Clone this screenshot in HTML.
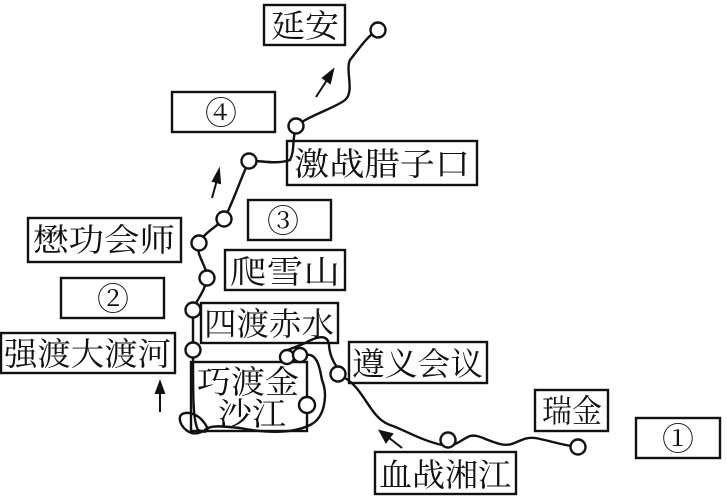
<!DOCTYPE html>
<html><head><meta charset="utf-8"><style>
body{margin:0;background:#fff;}
svg{display:block}
text{font-family:"Liberation Serif","Noto Serif CJK SC",serif;font-size:32px;fill:#111;}
</style></head><body>
<svg width="727" height="496" viewBox="0 0 727 496" xmlns="http://www.w3.org/2000/svg">
<g fill="none" stroke="#111" stroke-width="2.4">
<rect x="264" y="5" width="81" height="40"/>
<rect x="172" y="92" width="103" height="40"/>
<rect x="287" y="141" width="190" height="44"/>
<rect x="248" y="200" width="83" height="40"/>
<rect x="28" y="218" width="153" height="44"/>
<rect x="225" y="250" width="120" height="40"/>
<rect x="61" y="278" width="103" height="40"/>
<rect x="201" y="303" width="137" height="40"/>
<rect x="1" y="333" width="174" height="40"/>
<rect x="349" y="342" width="138" height="41"/>
<rect x="191" y="362" width="116" height="69"/>
<rect x="535" y="390" width="73" height="41"/>
<rect x="636" y="418" width="84" height="40"/>
<rect x="375" y="452" width="141" height="42"/>
<path d="M578,447 C560,445 548,440 535,438 C520,436 515,448 500,444 C485,440 478,434 470,436 C460,440 455,448 442,445 C420,440 405,430 390,425 C370,418 365,390 345,378 C340,370 330,362 329,345 C328,335 320,335 305,343 C295,348 283,350 282,355 C284,360 300,357 305,355 C318,352 320,370 322,380 C328,395 325,418 310,425 C290,435 260,432 240,428 C220,426 210,425 205,430 C190,440 180,425 180,420 C178,412 190,410 200,418 C210,428 210,435 198,430 C193,420 193,400 193,350 L193,310 C196,300 205,292 207,278 C207,265 195,255 199,243 C205,232 215,228 224,219 C232,205 240,180 249,161 C260,160 275,165 290,160 C295,150 292,140 296,126 C310,115 335,108 345,100 C355,92 345,70 350,60 C358,50 368,35 378,30"/>
</g>
<g fill="#fff" stroke="#111" stroke-width="2.4">
<circle cx="378" cy="30" r="7.5"/>
<circle cx="296" cy="126" r="7.5"/>
<circle cx="249" cy="161" r="7.5"/>
<circle cx="224" cy="219" r="7.5"/>
<circle cx="199" cy="243" r="7.5"/>
<circle cx="207" cy="278" r="7.5"/>
<circle cx="193" cy="310" r="7.5"/>
<circle cx="193" cy="350" r="7.5"/>
<circle cx="287" cy="357" r="7"/>
<circle cx="300" cy="355" r="7"/>
<circle cx="338" cy="374" r="7.5"/>
<circle cx="307" cy="405" r="8"/>
<circle cx="448" cy="440" r="7.5"/>
<circle cx="578" cy="447" r="7.5"/>
</g>
<g stroke="#111" stroke-width="2" fill="#111">
<line x1="160" y1="412" x2="160" y2="392"/><path d="M156,393 L160,382 L164,393Z"/>
<line x1="212" y1="198" x2="217" y2="180"/><path d="M213,181 L219,170 L220,183Z"/>
<line x1="316" y1="97" x2="327" y2="80"/><path d="M323,78 L333,70 L330,83Z"/>
<line x1="402" y1="448" x2="388" y2="437"/><path d="M392,434 L380,431 L386,442Z"/>
</g>
<g lengthAdjust="spacingAndGlyphs">
<text x="271" y="37" textLength="68" lengthAdjust="spacingAndGlyphs">延安</text>
<text x="294" y="175" textLength="176" lengthAdjust="spacingAndGlyphs">激战腊子口</text>
<text x="33" y="251" textLength="142" lengthAdjust="spacingAndGlyphs">懋功会师</text>
<text x="230" y="283" textLength="110" lengthAdjust="spacingAndGlyphs">爬雪山</text>
<text x="204" y="335" textLength="130" lengthAdjust="spacingAndGlyphs">四渡赤水</text>
<text x="4" y="365" textLength="167" lengthAdjust="spacingAndGlyphs">强渡大渡河</text>
<text x="352" y="375" textLength="131" lengthAdjust="spacingAndGlyphs">遵义会议</text>
<text x="197" y="393" textLength="102" lengthAdjust="spacingAndGlyphs">巧渡金</text>
<text x="218" y="425" textLength="68" lengthAdjust="spacingAndGlyphs">沙江</text>
<text x="542" y="422" textLength="60" lengthAdjust="spacingAndGlyphs">瑞金</text>
<text x="379" y="486" textLength="132" lengthAdjust="spacingAndGlyphs">血战湘江</text>
</g>
<text x="205" y="124" style="font-size:32px">④</text>
<text x="267" y="232" style="font-size:32px">③</text>
<text x="97" y="310" style="font-size:32px">②</text>
<text x="662" y="450" style="font-size:32px">①</text>
</svg>
</body></html>
